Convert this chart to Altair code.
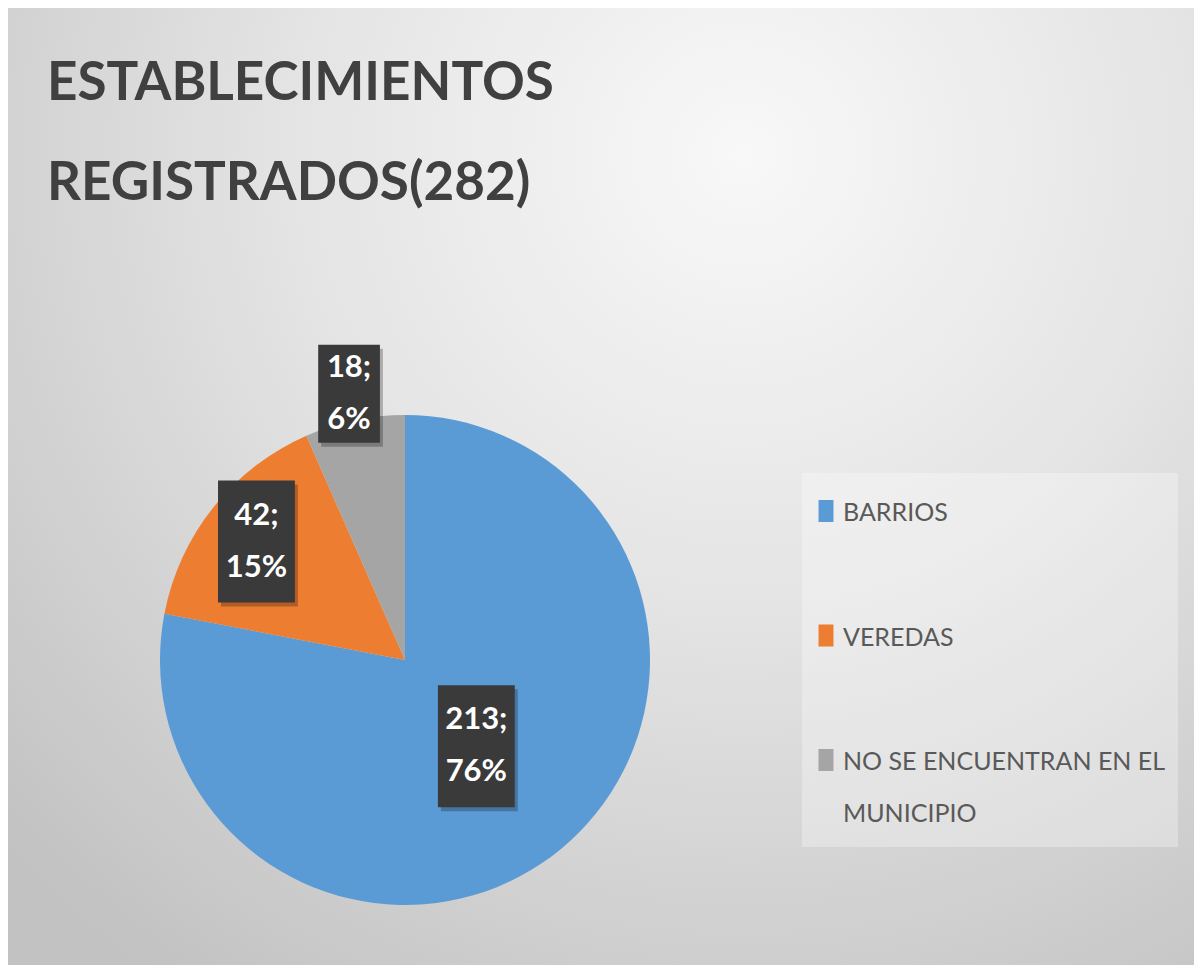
import math
import altair as alt
import pandas as pd

# ---- data ----
categories = ["BARRIOS", "VEREDAS", "NO SE ENCUENTRAN EN EL MUNICIPIO"]
legend_labels = ["BARRIOS", "VEREDAS", "NO SE ENCUENTRAN EN EL\nMUNICIPIO"]
values = [213, 42, 18]
percents = [76, 15, 6]
colors = ["#5B9BD5", "#ED7D31", "#A5A5A5"]
title_text = "ESTABLECIMIENTOS\nREGISTRADOS(282)"

W, H = 1186, 957
CX, CY, R = 397, 652, 245

df = pd.DataFrame({
    "cat": categories,
    "legend_label": legend_labels,
    "value": values,
    "pct": percents,
    "idx": list(range(len(categories))),
})
one = pd.DataFrame({"k": [0]})

FONT = "Lato, Roboto, sans-serif"

color_scale = alt.Scale(domain=categories, range=colors)

# background gradient
bg = alt.Chart(one).mark_rect(
    fill={
        "gradient": "radial",
        "x1": 0.62, "y1": 0.22, "r1": 0.0,
        "x2": 0.62, "y2": 0.22, "r2": 0.85,
        "stops": [
            {"offset": 0.0, "color": "#f8f8f8"},
            {"offset": 0.45, "color": "#e4e4e4"},
            {"offset": 1.0, "color": "#c2c2c2"},
        ],
    }
).encode(x=alt.value(0), x2=alt.value(W), y=alt.value(0), y2=alt.value(H))

title = alt.Chart(one).mark_text(
    text=title_text, lineBreak="\n", font=FONT, fontWeight="bold",
    fontSize=53, lineHeight=100, color="#404040", align="left", baseline="alphabetic",
).encode(x=alt.value(39), y=alt.value(92))

pie = alt.Chart(df).mark_arc(radius=R, strokeWidth=0).encode(
    theta=alt.Theta("value:Q", stack=True),
    color=alt.Color("cat:N", scale=color_scale, legend=None),
    order=alt.Order("idx:Q"),
    x=alt.value(CX), y=alt.value(CY),
)

lab_base = alt.Chart(df).transform_window(
    cum="sum(value)", sort=[alt.SortField("idx")], frame=[None, 0]
).transform_joinaggregate(
    total="sum(value)"
).transform_calculate(
    mid="(datum.cum - datum.value/2) / datum.total * 2 * PI",
    rr="datum.idx == 0 ? 112 : (datum.idx == 1 ? 190 : 272)",
    lx=f"{CX} + datum.rr * sin(datum.mid)",
    ly=f"{CY} - datum.rr * cos(datum.mid)",
    label="datum.value + ';\\n' + datum.pct + '%'",
)

box_shape = "M-0.63,-1L0.63,-1L0.63,1L-0.63,1Z"
box_size = alt.expr("datum.idx == 2 ? 9600 : 14884")
shadow = lab_base.mark_point(
    shape=box_shape, size=box_size, filled=True, fill="#000000", opacity=0.25,
    strokeWidth=0, xOffset=3, yOffset=4,
).encode(x=alt.X("lx:Q", scale=None, axis=None), y=alt.Y("ly:Q", scale=None, axis=None))
box = lab_base.mark_point(
    shape=box_shape, size=box_size, filled=True, fill="#3a3a3a", opacity=1,
    strokeWidth=0,
).encode(x=alt.X("lx:Q", scale=None, axis=None), y=alt.Y("ly:Q", scale=None, axis=None))
label = lab_base.mark_text(
    lineBreak="\n", font=FONT, fontWeight="bold", fontSize=31, lineHeight=52,
    color="white", align="center", baseline="middle", dy=-26,
).encode(
    x=alt.X("lx:Q", scale=None, axis=None),
    y=alt.Y("ly:Q", scale=None, axis=None),
    text="label:N",
)

legend_bg = alt.Chart(one).mark_rect(fill="#ffffff", opacity=0.3).encode(
    x=alt.value(794), x2=alt.value(1170), y=alt.value(465), y2=alt.value(839)
)
leg_y = alt.Y("cat:N", scale=alt.Scale(domain=categories, range=[503, 752], padding=0), axis=None)
legend_sym = alt.Chart(df).mark_point(
    shape="M-0.68,-1L0.68,-1L0.68,1L-0.68,1Z", size=484, filled=True, opacity=1, strokeWidth=0,
).encode(
    x=alt.value(818), y=leg_y,
    color=alt.Color("cat:N", scale=color_scale, legend=None),
)
legend_txt = alt.Chart(df).mark_text(
    lineBreak="\n", font=FONT, fontSize=25, lineHeight=52, color="#595959",
    align="left", baseline="alphabetic", dy=10,
).encode(x=alt.value(835), y=leg_y, text="legend_label:N")

chart = alt.layer(
    bg, title, pie, shadow, box, label, legend_bg, legend_sym, legend_txt
).resolve_scale(
    x="independent", y="independent"
).properties(
    width=W, height=H, padding=0, autosize=alt.AutoSizeParams(type="none"),
    background="#dcdcdc",
).configure_view(stroke=None)

chart.save("out.html", embed_options={"renderer": "svg", "actions": False})
